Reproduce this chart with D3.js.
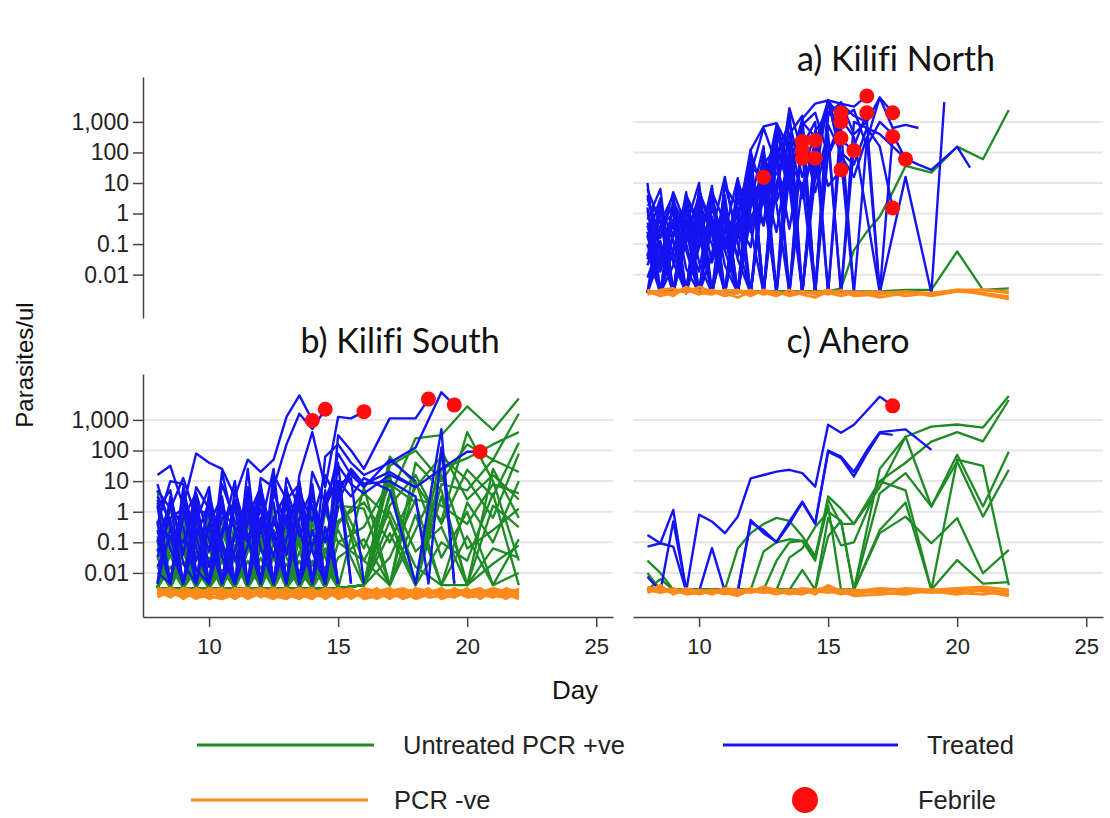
<!DOCTYPE html>
<html lang="en">
<head>
<meta charset="UTF-8">
<title>Parasites/ul by day</title>
<script src="https://cdn.jsdelivr.net/npm/d3@7"></script>
<style>
  body { margin: 0; background: #fff; }
  text { font-variant-ligatures: none; }
</style>
</head>
<body>
<div id="output"></div>
<script>
// values are log10(parasites/ul); _ = not sampled
var _ = null;
var days = [8, 8.5, 9, 9.5, 10, 10.5, 11, 11.5, 12, 12.5, 13, 13.5, 14, 14.5, 15, 15.5,
            16, 16.5, 17, 17.5, 18, 18.5, 19, 19.5, 20, 20.5, 21, 21.5, 22];
var yTicks = [1000, 100, 10, 1, 0.1, 0.01];
var xTicks = [10, 15, 20, 25];
var titles = ["a) Kilifi North", "b) Kilifi South", "c) Ahero"];
var legendLabels = ["Untreated PCR +ve", "Treated", "PCR -ve", "Febrile"];

// ---- Kilifi North
var northTreated = [
  [0.8,-0.3,0.6,-2.6,-0.5,-2.6,0.2,-2.6,0.4,1.19],
  [0.5,-0.8,0.7,-0.4,1.0,-2.6,-0.8,-2.6,0.5,1.2,-2.6,2.2,2.36],
  [-0.1,0.3,-2.6,0.4,-1.0,0.9,-2.6,-0.2,2.1,-2.6,1.8,-0.5,2.08],
  [-0.3,-1.5,0.2,-2.6,0.3,-0.6,1.2,-1.0,-2.6,0.8,2.9,1.6,1.81],
  [-0.8,0.5,-2.6,-0.2,-2.6,0.2,-1.2,0.6,1.1,-2.6,1.9,2.6,0.5,2.39],
  [-1.0,-2.6,-0.7,0.4,-1.6,-2.6,0.1,-2.6,1.5,1.2,-2.6,3.4,-2.6,1.81],
  [-1.5,0.1,-1.3,-2.6,-0.1,-1.0,-2.6,0.8,-0.6,2.0,0.4,1.6,-2.6,2.1,3.6,3.3],
  [0.2,-2.6,-0.6,-0.8,0.6,-2.6,-0.4,-2.6,0.9,-0.3,2.5,-2.6,1.0,-2.6,2.0,3.01],
  [-2.6,-0.5,0.3,-1.8,-2.6,0.7,-0.3,-1.4,2.0,0.6,-2.6,1.3,2.2,3.0,-2.6,2.47],
  [-0.6,-2.6,-1.2,0.5,-0.4,-2.6,0.9,0.2,-2.6,1.6,2.2,0.8,3.0,2.5,0.9,1.43],
  [-2.1,-0.9,-2.6,0.2,-2.6,-0.2,-0.9,0.3,1.3,2.8,1.6,2.6,3.2,-2.6,3.7,2.4,2.06],
  [0.3,0.0,-1.6,-2.6,0.8,-0.7,-2.6,-0.6,0.7,-0.4,1.9,3.0,1.2,2.7,3.3,3.6,3.5,3.85],
  [-1.3,-2.6,0.4,-0.5,-2.6,-1.3,0.4,-2.6,0.2,1.1,-0.6,2.1,2.7,0.7,2.4,-2.6,2.2,3.3],
  [-0.4,-1.9,-0.3,-2.6,-0.9,0.6,-1.7,-2.6,-0.1,0.5,2.0,-2.6,2.9,3.3,1.9,2.8,-2.6,2.4,3.8,3.3],
  [-2.6,-1.1,-2.6,-0.9,0.1,-2.6,0.3,-1.5,-2.6,0.9,1.3,1.9,-2.6,2.3,3.7,1.9,1.2,2.5,-2.6,2.52],
  [-1.7,-0.4,0.0,-2.6,-1.1,-0.1,-2.6,0.5,-0.5,-2.6,2.2,1.0,2.6,-2.6,2.9,2.0,1.6,2.8,2.2,0.18],
  [0.6,-1.2,-2.6,-0.6,0.2,-2.6,-0.5,-0.1,1.8,-2.6,2.6,1.5,3.1,3.6,3.7,3.1,3.4,2.2,3.0,2.6,1.78],
  [-0.2,0.8,-2.6,0.0,-0.7,-2.6,1.0,-0.8,1.9,-2.6,1.0,2.4,-2.6,1.2,3.7,3.6,3.2,3.0,3.8,2.8,2.9,2.8],
  [-2.6,-1.4,-0.3,-2.6,0.3,-1.6,-0.1,-2.6,0.4,2.2,-2.6,1.7,0.9,2.2,-2.6,3.1,2.5,_,-2.6,_,1.2,_,-2.6,3.65],
  [-0.7,-2.6,-1.7,0.7,-2.6,-0.4,-2.6,-0.3,-1.1,1.8,0.3,-2.6,2.5,1.1,2.6,-2.6,3.0,_,2.6,_,1.8,1.6,1.43,_,2.18,1.5],
  [1.0,-2.6,0.4,-1.0,-2.6,0.6,-2.6,1.1,-0.4,1.4,-2.6],
  [-1.4,0.3,-0.9,-2.6,0.7,-0.3,-1.2,-2.6,1.2,0.3,2.8,0.9,-2.6],
  [-2.6,0.2,-2.6,-0.7,-1.9,0.5,-1.1,0.0,-2.6,1.5,0.6,3.45,2.0,-2.6,-2.6],
  [0.1,-1.7,-0.2,-1.2,-2.6,-1.4,0.6,-2.6,2.08,2.85,2.96,2.1,-2.6,1.5,3.72,1.8,-2.6],
  [-1.1,-0.2,-2.6,0.6,-0.3,-2.6,-0.6,1.16,-2.6,0.9,2.2,1.1,2.8,-2.6,3.2,3.65,2.6,3.0,-2.6]
];
var northUntreated = [
  [-2.55,_,-2.55,_,-2.55,_,-2.55,_,-2.55,_,-2.55,_,-2.55,_,-2.55,-2.45,-1.2,-0.6,-0.1,0.7,1.56,_,1.34,_,2.19,_,1.78,_,3.39],
  [-2.55,_,-2.55,_,-2.55,_,-2.55,_,-2.55,_,-2.55,_,-2.55,_,-2.55,_,-2.55,_,-2.55,_,-2.5,_,-2.5,_,-1.24,_,-2.5,_,-2.45]
];
var northNegative = [
  [-2.5,-2.6,-2.55,-2.45,-2.5,-2.6,-2.55,-2.5,-2.6,-2.55,-2.65,-2.6,-2.55,-2.6,-2.5,-2.6,-2.65,_,-2.6,_,-2.55,_,-2.6,_,-2.5,_,-2.5,_,-2.55],
  [-2.65,-2.5,-2.45,-2.6,-2.4,-2.55,-2.7,-2.6,-2.5,-2.65,-2.55,-2.7,-2.6,-2.55,-2.65,-2.5,-2.7,_,-2.65,_,-2.55,_,-2.7,_,-2.55,_,-2.6,_,-2.72],
  [-2.55,-2.7,-2.6,-2.5,-2.65,-2.5,-2.6,-2.75,-2.55,-2.6,-2.7,-2.5,-2.65,-2.75,-2.55,-2.6,-2.55,_,-2.75,_,-2.6,_,-2.65,_,-2.5,_,-2.65,_,-2.8],
  [-2.6,-2.55,-2.7,-2.4,-2.6,-2.65,-2.5,-2.55,-2.7,-2.5,-2.6,-2.65,-2.55,-2.65,-2.6,-2.7,-2.6,_,-2.55,_,-2.7,_,-2.6,_,-2.55,_,-2.5,_,-2.6]
];
var northFebrile = [[12.5,1.19],[14,2.36],[14,2.08],[14,1.81],[14.5,2.39],[14.5,1.81],[15.5,3.3],[15.5,3.01],
  [15.5,2.47],[15.5,1.43],[16,2.06],[16.5,3.85],[16.5,3.3],[17.5,3.3],[17.5,2.52],[17.5,0.18],[18,1.78]];

// ---- Kilifi South
var southTreated = [
  [1.2,1.5,0.2,1.9,1.6,1.4,0.5,1.7,1.3,1.7,3.1,3.8,2.98],
  [0.7,0.1,1.1,-0.2,-2.35,1.3,-0.6,-2.35,1.1,0.8,2.2,3.2,2.7,3.35],
  [-0.4,1.0,0.9,-2.35,0.6,-1.2,-2.35,0.3,-0.5,1.4,-2.35,1.2,2.6,0.8,3.1,3.05,3.27],
  [-1.0,0.3,-2.35,0.0,-1.3,0.2,-2.35,1.4,-2.35,0.6,-0.4,-2.35,0.9,-2.35,2.5,2.0,1.4,_,3.05,_,3.05,3.68],
  [0.2,-2.35,0.6,-0.8,-2.35,0.9,-0.3,-1.0,0.9,-2.35,1.1,0.1,-2.35,1.8,2.2,1.6,1.2,_,1.6,_,2.1,_,3.9,3.49],
  [-2.35,0.5,-1.4,0.8,0.1,-2.35,0.7,-0.8,-2.35,1.2,0.4,0.9,-2.35,0.4,1.5,0.9,0.6,_,1.2,_,0.8,_,1.4,_,1.96,1.96],
  [-0.6,-2.35,0.4,-1.6,-0.5,-2.35,0.3,-2.35,-0.2,-1.5,0.8,-2.35,1.3,0.3,1.0,0.5,1.1,_,0.7,_,-2.35,_,2.7,-2.35],
  [0.9,-0.5,-2.35,0.5,-2.35,-0.8,1.0,-2.35,0.5,-0.7,-2.35,0.6,-0.3,1.2,0.3,1.3,0.9,_,1.0,_,0.5,-2.35,2.1,-2.35],
  [-1.5,0.2,-0.5,-2.35,0.4,-1.0,-2.35,0.8,-1.2,-2.35,0.5,-0.8,0.2,-2.35,1.6,-2.35],
  [0.4,-1.2,-2.35,-0.3,0.8,-2.35,-0.7,0.1,-2.35,0.9,-1.4,0.4,-2.35,0.7,-2.35],
  [-0.9,-2.35,0.8,-1.2,-2.35,0.4,-1.6,-0.4,0.6,-2.35,-0.1,-2.35,0.5,-1.0,0.9,1.1,-2.35],
  [-2.35,-0.6,-1.0,0.3,-1.8,-0.2,0.2,-2.35,-0.6,0.3,-2.35,0.9,-1.3,-2.35,0.2],
  [0.1,0.7,-1.7,-2.35,-0.4,0.5,-2.35,-1.1,0.1,-2.35,0.7,-0.5,-2.35,0.5,-2.35],
  [-1.3,-0.2,0.1,-1.9,-2.35,-0.6,0.4,-0.9,-2.35,-0.2,0.6,-2.35,-0.6,-2.35],
  [-2.0,-2.35,-0.2,0.6,-0.9,-2.35,-1.3,0.6,-0.5,-2.35,-0.9,1.0,-2.35,0.2,1.0,-2.35],
  [0.5,-0.3,-2.35,-0.8,0.3,-1.5,-2.35,-0.2,0.8,-1.0,-2.35,-0.2,0.7,-2.35,0.6,1.4,0.9,_,1.3,_,0.8],
  [-0.3,-2.35,0.3,-0.6,-1.2,0.0,-0.5,-2.35,0.4,-0.9,0.2,-2.35,-1.1,0.0,1.9,1.2,0.8,_,1.7,_,1.0],
  [-1.8,-0.8,-2.35,0.1,-0.1,-2.35,-0.8,0.5,-2.35,-0.3,-1.4,0.3,-2.35,-0.5,-2.35]
];
var southUntreated = [
  [-2.5,-1.2,-2.5,-0.8,-2.5,-2.5,-0.4,-2.5,-2.5,-1.0,-2.5,-2.5,-0.6,-2.5,-2.5,_,-2.4,_,0.5,_,2.4,_,2.5,_,3.44,_,2.67,_,3.7],
  [0.7,-2.5,-0.2,-2.5,-1.5,-2.5,-2.5,-0.5,-0.8,-2.5,-2.5,0.3,-2.5,-1.2,-2.5,_,-2.4,_,1.5,_,2.0,_,1.0,_,2.2,_,1.7,_,3.2],
  [-2.5,0.2,-2.5,-1.6,-0.3,-2.5,-1.1,-2.5,-2.5,-0.2,-1.5,-2.5,-2.5,0.0,-1.0,_,-0.5,_,1.0,_,-2.4,_,1.4,_,1.75,_,2.2,_,2.6],
  [-1.0,-2.5,-0.9,-2.5,-2.5,-0.2,-2.5,-1.3,0.5,-2.5,-0.8,-2.5,-1.6,-2.5,0.8,_,-2.4,_,0.2,_,1.2,_,-0.4,_,1.37,_,0.5,_,2.25],
  [-2.5,-0.5,-2.5,0.1,-2.5,-1.4,-2.5,-0.3,-2.5,-2.5,0.4,-1.1,-2.5,-2.5,-0.3,_,0.3,_,-1.0,_,0.8,_,1.8,_,1.04,_,-0.2,_,1.9],
  [0.3,-2.5,-1.3,-2.5,-0.6,-2.5,0.2,-2.5,-1.2,-0.6,-2.5,-2.5,0.0,-1.5,-2.5,_,-2.4,_,-0.3,_,-2.4,_,0.9,_,0.7,_,1.7,_,1.3],
  [-2.5,-1.8,-2.5,-0.4,-1.0,-2.5,-2.5,0.1,-2.5,-1.3,-2.5,-0.4,-2.5,-2.5,0.5,_,-1.2,_,0.9,_,0.3,_,-2.4,_,0.3,_,-1.0,_,1.0],
  [-1.5,-2.5,0.0,-2.5,-2.5,-0.7,-1.6,-2.5,-0.4,-2.5,-1.0,-2.5,-0.9,-2.5,-2.5,_,-2.4,_,-1.5,_,0.4,_,0.2,_,-0.4,_,0.9,_,0.6],
  [-2.5,-2.5,-1.1,-2.5,0.0,-2.5,-1.5,-2.5,-2.5,0.2,-2.5,-1.6,-2.5,-0.8,-2.5,_,0.8,_,-2.4,_,-0.6,_,1.2,_,-1.2,_,-0.6,_,0.1],
  [-0.4,-2.5,-2.5,-1.3,-2.5,-0.9,-2.5,-2.5,-1.0,-2.5,-0.3,-2.5,-2.5,-1.3,-0.6,_,-2.4,_,0.6,_,-1.3,_,-0.5,_,-2.4,_,0.2,_,-0.5],
  [-2.5,-0.9,-2.5,-2.5,-1.7,-2.5,-0.8,-2.5,-1.8,-2.5,-2.5,-0.9,-2.5,-2.5,-1.5,_,-0.9,_,-2.4,_,1.0,_,-1.5,_,0.0,_,-2.4,_,-0.9],
  [-1.8,-2.5,-0.6,-2.5,-2.5,-1.2,-2.5,-0.7,-2.5,-2.5,-1.7,-2.5,-0.3,-2.5,-2.5,_,-2.4,_,-0.7,_,-2.4,_,0.5,_,-2.4,_,-1.2,_,-1.5],
  [-2.5,-2.5,-1.6,-2.5,-0.8,-2.5,-2.5,-1.6,-2.5,-0.6,-2.5,-2.5,-1.7,-2.5,0.2,_,0.1,_,-2.4,_,-0.1,_,-2.4,_,-0.8,_,-2.4,_,-2.0],
  [-0.8,-2.5,-2.5,-1.0,-2.5,-2.5,-1.1,-2.5,-0.9,-2.5,-2.5,-1.3,-2.5,-1.8,-2.5,_,-2.4,_,1.2,_,-2.4,_,-1.0,_,-1.6,_,0.6,_,-2.4],
  [-2.5,-1.4,-2.5,-2.5,-1.2,-2.5,-0.5,-2.5,-2.5,-1.5,-2.5,-0.7,-2.5,-2.5,-1.0,_,-1.6,_,0.0,_,-1.8,_,-2.4,_,-2.4,_,-1.7,_,-1.1],
  [-2.5,-2.5,-0.7,-2.5,-2.5,-1.6,-2.5,-1.0,-2.5,-2.5,-0.5,-2.5,-1.1,-2.5,-0.4,_,0.6,_,-0.2,_,-2.4,_,2.0,_,0.4,_,1.2,_,0.4],
  [-1.2,-2.5,-2.5,-0.5,-2.5,-1.9,-2.5,-2.5,-0.2,-2.5,-1.2,-2.5,-2.5,-0.6,-2.5,_,-2.4,_,1.8,_,0.9,_,-0.3,_,2.6,_,1.0,_,-1.6],
  [-2.5,-0.3,-2.5,-1.9,-2.5,-2.5,-1.4,-2.5,-1.5,-2.5,-2.5,-1.9,-2.5,-2.5,0.3,_,-1.6,_,-2.4,_,1.6,_,0.7,_,-2.4,_,1.4,_,-0.2]
];
var southNegative = [
  [-2.5,-2.6,-2.7,-2.55,-2.6,-2.75,-2.5,-2.65,-2.6,-2.7,-2.55,-2.6,-2.7,-2.5,-2.6,-2.65,-2.55,-2.7,-2.6,-2.5,-2.65,-2.6,-2.7,-2.55,-2.6,-2.65,-2.5,-2.6,-2.55],
  [-2.7,-2.55,-2.6,-2.75,-2.5,-2.6,-2.7,-2.55,-2.65,-2.5,-2.7,-2.75,-2.6,-2.65,-2.55,-2.7,-2.6,-2.55,-2.75,-2.65,-2.55,-2.7,-2.6,-2.65,-2.75,-2.55,-2.7,-2.65,-2.7],
  [-2.6,-2.8,-2.55,-2.65,-2.75,-2.55,-2.6,-2.8,-2.5,-2.65,-2.6,-2.55,-2.8,-2.6,-2.75,-2.55,-2.7,-2.8,-2.55,-2.7,-2.75,-2.55,-2.65,-2.8,-2.55,-2.7,-2.6,-2.75,-2.6],
  [-2.55,-2.65,-2.8,-2.5,-2.7,-2.65,-2.8,-2.6,-2.75,-2.55,-2.8,-2.65,-2.55,-2.75,-2.65,-2.8,-2.55,-2.65,-2.7,-2.8,-2.6,-2.75,-2.55,-2.7,-2.65,-2.8,-2.55,-2.7,-2.8],
  [-2.75,-2.5,-2.65,-2.8,-2.6,-2.5,-2.75,-2.7,-2.55,-2.8,-2.65,-2.5,-2.7,-2.8,-2.5,-2.65,-2.8,-2.6,-2.5,-2.75,-2.7,-2.6,-2.8,-2.5,-2.7,-2.6,-2.8,-2.5,-2.65],
  [-2.65,-2.75,-2.5,-2.6,-2.85,-2.7,-2.55,-2.5,-2.8,-2.6,-2.5,-2.8,-2.65,-2.55,-2.8,-2.6,-2.75,-2.5,-2.8,-2.55,-2.8,-2.65,-2.5,-2.75,-2.6,-2.5,-2.75,-2.8,-2.5],
  [-2.8,-2.6,-2.75,-2.7,-2.55,-2.8,-2.65,-2.75,-2.7,-2.85,-2.6,-2.7,-2.75,-2.6,-2.7,-2.75,-2.65,-2.85,-2.65,-2.6,-2.55,-2.8,-2.75,-2.6,-2.8,-2.75,-2.65,-2.55,-2.75],
  [-2.5,-2.7,-2.6,-2.85,-2.65,-2.6,-2.85,-2.6,-2.5,-2.75,-2.85,-2.6,-2.5,-2.85,-2.6,-2.5,-2.85,-2.75,-2.6,-2.85,-2.7,-2.5,-2.85,-2.7,-2.5,-2.85,-2.6,-2.85,-2.6],
  [-2.6,-2.5,-2.85,-2.6,-2.7,-2.55,-2.6,-2.85,-2.65,-2.55,-2.7,-2.85,-2.6,-2.7,-2.5,-2.85,-2.6,-2.7,-2.55,-2.8,-2.5,-2.6,-2.7,-2.8,-2.6,-2.7,-2.8,-2.6,-2.8],
  [-2.7,-2.65,-2.55,-2.8,-2.75,-2.85,-2.7,-2.55,-2.75,-2.7,-2.75,-2.7,-2.85,-2.55,-2.85,-2.7,-2.5,-2.6,-2.85,-2.6,-2.85,-2.7,-2.6,-2.55,-2.7,-2.6,-2.55,-2.7,-2.85]
];
var southFebrile = [[14,2.98],[14.5,3.35],[16,3.27],[18.5,3.68],[19.5,3.49],[20.5,1.96]];

// ---- Ahero
var aheroTreated = [
  [-1.14,-1.03,0.06,-2.6,-0.1,-0.32,-0.7,-0.16,1.09,1.2,1.31,1.37,1.26,0.82,2.84,2.58,2.84,3.3,3.76,3.46],
  [-0.76,-1.03,-1.14,-2.6,-2.6,-1.19,-2.6,-2.6,-0.27,-0.7,-0.98,-0.32,0.33,-0.38,1.96,1.75,1.15,1.9,2.57,2.51],
  [-2.12,-2.6,-0.32,-2.55,-2.6,-2.6,-2.6,-2.6,-0.35,-0.6,-1.0,-0.4,0.3,-0.4,2.0,1.8,1.3,2.0,2.6,_,2.69,_,2.02]
];
var aheroUntreated = [
  [-1.6,-2.0,-2.55,-2.55,-2.55,-2.55,-2.55,-1.2,-0.7,-0.4,-0.2,-0.3,-0.8,-1.45,0.4,-0.4,-0.4,_,0.8,_,2.45,_,2.78,_,2.85,_,2.75,_,3.78],
  [-2.55,-2.2,-2.55,-2.55,-2.55,-2.55,-2.55,-2.55,-2.55,-1.3,-1.0,-0.9,-0.95,-1.6,0.5,0.1,-0.4,_,1.0,_,1.6,_,2.29,_,2.6,_,2.3,_,3.65],
  [-2.55,-2.55,-2.55,-2.55,-2.55,-2.55,-2.55,-2.55,-2.55,-2.55,-1.6,-1.0,-0.95,-1.5,0.2,-2.55,-2.55,_,1.4,_,2.45,_,0.17,_,1.86,_,0.17,_,1.96],
  [-2.0,-2.55,-2.55,-2.55,-2.55,-2.55,-2.55,-2.55,-2.55,-2.55,-2.55,-1.5,-1.2,-0.5,0.0,-0.3,-2.55,_,0.6,_,1.26,_,0.17,_,1.64,_,-0.16,_,1.37],
  [-2.55,-2.55,-2.55,-2.55,-2.55,-2.55,-2.55,-2.55,-2.55,-2.55,-2.55,-2.55,-2.55,-2.55,-0.8,-0.3,-2.55,_,-0.7,_,-0.16,_,-1.03,_,-0.21,_,-2.01,_,-1.25],
  [-2.55,-2.55,-2.55,-2.55,-2.55,-2.55,-2.55,-2.55,-2.55,-2.55,-2.55,-2.55,-1.9,-2.55,-0.2,-1.1,-1.0,_,1.0,_,0.7,_,-2.55,_,-1.58,_,-2.35,_,-2.3],
  [-2.55,-2.55,-2.55,-2.55,-2.55,-2.55,-2.55,-2.55,-2.55,-2.55,-2.55,-2.55,-2.55,-2.55,-2.55,-2.55,-2.55,_,-0.6,_,0.3,_,-2.55,_,1.7,_,1.5,_,-2.4]
];
var aheroNegative = [
  [-2.45,-2.6,-2.5,-2.65,-2.55,-2.6,-2.5,-2.55,-2.6,-2.45,-2.55,-2.6,-2.5,-2.55,-2.45,-2.6,-2.55,_,-2.6,_,-2.5,_,-2.55,_,-2.5,_,-2.45,_,-2.55],
  [-2.6,-2.4,-2.7,-2.55,-2.6,-2.7,-2.55,-2.6,-2.5,-2.65,-2.6,-2.55,-2.65,-2.6,-2.55,-2.65,-2.7,_,-2.55,_,-2.6,_,-2.65,_,-2.6,_,-2.5,_,-2.7],
  [-2.55,-2.65,-2.55,-2.7,-2.65,-2.55,-2.65,-2.75,-2.55,-2.6,-2.7,-2.6,-2.55,-2.7,-2.4,-2.6,-2.75,_,-2.7,_,-2.65,_,-2.6,_,-2.55,_,-2.6,_,-2.75],
  [-2.65,-2.5,-2.6,-2.6,-2.7,-2.6,-2.7,-2.6,-2.65,-2.55,-2.6,-2.7,-2.6,-2.6,-2.65,-2.55,-2.6,_,-2.5,_,-2.55,_,-2.6,_,-2.7,_,-2.55,_,-2.6],
  [-2.5,-2.55,-2.65,-2.5,-2.6,-2.65,-2.6,-2.7,-2.6,-2.65,-2.55,-2.65,-2.7,-2.55,-2.6,-2.7,-2.6,_,-2.65,_,-2.7,_,-2.55,_,-2.65,_,-2.7,_,-2.6]
];
var aheroFebrile = [[17.5,3.46]];

var w = 1110;
var h = 818;
var svg = d3.select("#output")
    .append("svg")
    .attr("width", w)
    .attr("height", h)
    .style("background-color", "#ffffff");

var colors = { untreated: "#1e8b24", treated: "#1414f0", negative: "#ff8a1c", febrile: "#ff0d0d" };
var axisFont = "'Liberation Sans', Arial, sans-serif";
var titleFont = "Lato, 'Open Sans', sans-serif";

var panels = [
  { title: titles[0], left: 633, top: 77, bottom: 318, ymin: -3.42, ymax: 4.47, tx: 896, ty: 71,
    treated: northTreated, untreated: northUntreated, negative: northNegative, febrile: northFebrile, xaxis: false },
  { title: titles[1], left: 143, top: 374, bottom: 617, ymin: -3.44, ymax: 4.5, tx: 400, ty: 353,
    treated: southTreated, untreated: southUntreated, negative: southNegative, febrile: southFebrile, xaxis: true },
  { title: titles[2], left: 633, top: 374, bottom: 617, ymin: -3.44, ymax: 4.5, tx: 848, ty: 353,
    treated: aheroTreated, untreated: aheroUntreated, negative: aheroNegative, febrile: aheroFebrile, xaxis: true }
];

function points(vals) {
  return vals.map(function(v, i) { return [days[i], v]; })
             .filter(function(p) { return p[1] !== null && p[1] !== undefined; });
}

panels.forEach(function(p) {
  var x = d3.scaleLinear().domain([7.44, 25.65]).range([p.left, p.left + 470]);
  var y = d3.scaleLog().domain([Math.pow(10, p.ymin), Math.pow(10, p.ymax)]).range([p.bottom, p.top]);
  var g = svg.append("g");

  // gridlines
  g.selectAll(".grid").data(yTicks).enter()
    .append("line")
      .attr("x1", p.left).attr("x2", p.left + 470)
      .attr("y1", function(d) { return y(d); }).attr("y2", function(d) { return y(d); })
      .attr("stroke", "#e6e6e6").attr("stroke-width", 2);

  var line = d3.line()
      .x(function(d) { return x(d[0]); })
      .y(function(d) { return y(Math.pow(10, d[1])); });

  function drawGroup(series, color, width) {
    g.append("g").selectAll("path").data(series).enter()
      .append("path")
        .attr("d", function(d) { return line(points(d)); })
        .attr("fill", "none")
        .attr("stroke", color)
        .attr("stroke-width", width)
        .attr("stroke-linejoin", "round");
  }
  drawGroup(p.untreated, colors.untreated, 2.3);
  drawGroup(p.treated, colors.treated, 2.4);
  drawGroup(p.negative, colors.negative, 2.6);

  g.append("g").selectAll("circle").data(p.febrile).enter()
    .append("circle")
      .attr("cx", function(d) { return x(d[0]); })
      .attr("cy", function(d) { return y(Math.pow(10, d[1])); })
      .attr("r", 7.5)
      .attr("fill", colors.febrile);

  // y axis sits in the left column for each row
  if (p.left === 143 || p.top === 77) {
    var ya = svg.append("g")
        .attr("transform", "translate(143,0)")
        .call(d3.axisLeft(y).tickValues(yTicks).tickFormat(d3.format(",")).tickSize(10).tickSizeOuter(0).tickPadding(4));
    ya.select(".domain").attr("stroke", "#444").attr("stroke-width", 1.5);
    ya.selectAll(".tick line").attr("stroke", "#444").attr("stroke-width", 1.5);
    ya.selectAll("text").attr("font-family", axisFont).attr("font-size", 23).attr("fill", "#222");
  }

  if (p.xaxis) {
    var xa = svg.append("g")
        .attr("transform", "translate(0," + p.bottom + ")")
        .call(d3.axisBottom(x).tickValues(xTicks).tickSize(10).tickSizeOuter(0).tickPadding(11));
    xa.select(".domain").attr("stroke", "#444").attr("stroke-width", 1.5);
    xa.selectAll(".tick line").attr("stroke", "#444").attr("stroke-width", 1.5);
    xa.selectAll("text").attr("font-family", axisFont).attr("font-size", 22).attr("fill", "#222");
  }

  svg.append("text")
    .attr("x", p.tx).attr("y", p.ty)
    .attr("text-anchor", "middle")
    .attr("font-family", titleFont)
    .attr("font-size", 34)
    .attr("fill", "#111")
    .text(p.title);
});

// axis titles
svg.append("text")
  .attr("transform", "translate(33,365) rotate(-90)")
  .attr("text-anchor", "middle")
  .attr("font-family", axisFont).attr("font-size", 24).attr("fill", "#111")
  .text("Parasites/ul");
svg.append("text")
  .attr("x", 575).attr("y", 699)
  .attr("text-anchor", "middle")
  .attr("font-family", axisFont).attr("font-size", 26).attr("fill", "#111")
  .text("Day");

// legend
var legend = [
  { label: legendLabels[0], color: colors.untreated, kind: "line", x1: 197, x2: 374, tx: 403, y: 745 },
  { label: legendLabels[1], color: colors.treated, kind: "line", x1: 723, x2: 898, tx: 927, y: 745 },
  { label: legendLabels[2], color: colors.negative, kind: "line", x1: 191, x2: 368, tx: 394, y: 800 },
  { label: legendLabels[3], color: colors.febrile, kind: "dot", x1: 805, x2: 805, tx: 918, y: 800 }
];
var lg = svg.append("g");
legend.forEach(function(d) {
  if (d.kind === "line") {
    lg.append("line").attr("x1", d.x1).attr("x2", d.x2).attr("y1", d.y).attr("y2", d.y)
      .attr("stroke", d.color).attr("stroke-width", 3);
  } else {
    lg.append("circle").attr("cx", d.x1).attr("cy", d.y).attr("r", 13).attr("fill", d.color);
  }
  lg.append("text").attr("x", d.tx).attr("y", d.y + 9)
    .attr("font-family", axisFont).attr("font-size", 25.5).attr("fill", "#222")
    .text(d.label);
});
</script>
</body>
</html>
